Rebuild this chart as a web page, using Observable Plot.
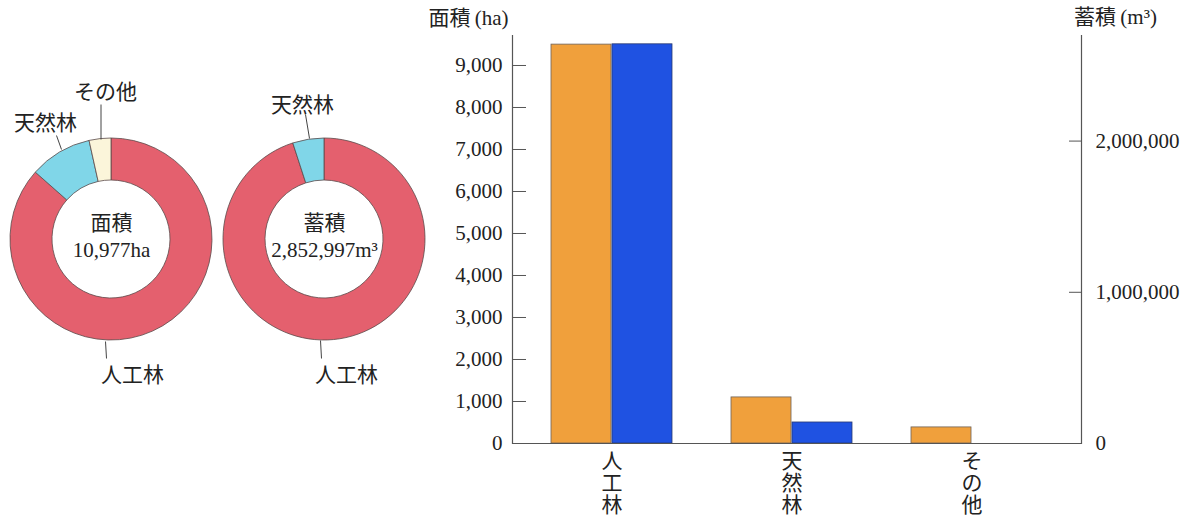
<!DOCTYPE html>
<html lang="ja">
<head>
<meta charset="utf-8">
<script src="https://cdn.jsdelivr.net/npm/d3@7"></script>
<script src="https://cdn.jsdelivr.net/npm/@observablehq/plot@0.6"></script>
<style>
  body { margin: 0; background: #fff; }
  #chart { position: relative; width: 1192px; height: 516px; overflow: hidden; }
  #chart svg { display: block; position: absolute; top: 0; }
</style>
</head>
<body>
<div id="chart"></div>
<script>
// ---- data ----
const categories = ["人工林", "天然林", "その他"];
const areaHa = [9497, 1097, 383];            // 面積 (ha)
const volumeM3 = [2640000, 139000, 0];       // 蓄積 (m³)
const areaTotalLabel = "10,977ha";
const volumeTotalLabel = "2,852,997m³";
const areaTicks = [0, 1000, 2000, 3000, 4000, 5000, 6000, 7000, 8000, 9000];
const volumeTicks = [0, 1000000, 2000000];
const areaTitle = "面積\u2009(ha)";
const volumeTitle = "蓄積\u2009(m³)";

// ---- styling ----
const FONT = '"Liberation Serif", "Noto Sans CJK JP", serif';
const INK = "#222";
const sliceColors = ["#e4606e", "#80d6e8", "#fbf5da"];
const ORANGE = "#f0a03c";
const BLUE = "#1f52e2";
const EDGE = "#6e625a";
const AXIS = "#555";
// shared y: 1 m³ of 蓄積 is drawn at the height of 0.0036 ha of 面積
const HA_PER_M3 = 0.0036;

const chart = document.getElementById("chart");

// ---- donuts ----
const rings = [
  {title: "面積", total: areaTotalLabel, values: areaHa, cx: 111, cy: 239, r0: 59, r1: 101},
  {title: "蓄積", total: volumeTotalLabel, values: volumeM3, cx: 324, cy: 239, r0: 59, r1: 101}
];
// slice callouts: category index, label centre, leader line
const callouts = [
  {cat: 2, tx: 105, ty: 92, x1: 100.5, y1: 104, x2: 100.5, y2: 139},
  {cat: 1, tx: 45, ty: 123, x1: 56, y1: 135, x2: 61, y2: 149},
  {cat: 0, tx: 132, ty: 375, x1: 105, y1: 341, x2: 106, y2: 358},
  {cat: 1, tx: 302, ty: 105, x1: 305, y1: 114, x2: 309, y2: 138},
  {cat: 0, tx: 346, ty: 375, x1: 320, y1: 340, x2: 321, y2: 358}
];

const ringMark = (ring) => (index, scales) => {
  const sx = typeof scales.x === "function" ? scales.x : (v) => v;
  const sy = typeof scales.y === "function" ? scales.y : (v) => v;
  const slices = d3.pie().sort(null)(ring.values);
  const arc = d3.arc().innerRadius(ring.r0).outerRadius(ring.r1);
  const g = d3.create("svg:g")
    .attr("transform", `translate(${sx(ring.cx)},${sy(ring.cy)})`);
  g.selectAll("path")
    .data(slices.filter((s) => s.value > 0))
    .join("path")
    .attr("d", arc)
    .attr("fill", (s) => sliceColors[s.index])
    .attr("stroke", "#5a4a4a")
    .attr("stroke-width", 0.8);
  return g.node();
};

const donutPlot = Plot.plot({
  width: 440,
  height: 516,
  margin: 0,
  x: {domain: [0, 440], axis: null},
  y: {domain: [516, 0], axis: null},
  style: {fontFamily: FONT, fontSize: "21px", color: INK, background: "transparent"},
  marks: [
    ...rings.map(ringMark),
    Plot.link(callouts, {x1: "x1", y1: "y1", x2: "x2", y2: "y2", stroke: "#444", strokeWidth: 1}),
    Plot.text(callouts, {x: "tx", y: "ty", text: (d) => categories[d.cat], fontSize: 21, fill: INK}),
    Plot.text(rings, {x: "cx", y: (d) => d.cy - 16, text: "title", fontSize: 21, fill: INK}),
    Plot.text(rings, {x: "cx", y: (d) => d.cy + 11, text: "total", fontSize: 21, fill: INK})
  ]
});
donutPlot.style.left = "0px";
chart.appendChild(donutPlot);

// ---- dual-axis bar chart ----
const OFFSET = 400;
const W = 792, H = 516;
const M = {top: 35, right: 111, bottom: 73, left: 112};
const padInner = 0.326, padOuter = 0.235, bandAlign = 0.447;
const step = (W - M.left - M.right) / (categories.length - padInner + 2 * padOuter);
const bandwidth = step * (1 - padInner);

const rows = categories.map((c, i) => ({category: c, area: areaHa[i], volume: volumeM3[i]}));
const fmt = d3.format(",");

const barPlot = Plot.plot({
  width: W,
  height: H,
  marginTop: M.top,
  marginRight: M.right,
  marginBottom: M.bottom,
  marginLeft: M.left,
  style: {fontFamily: FONT, fontSize: "21px", color: INK, background: "transparent"},
  x: {type: "band", domain: categories, paddingInner: padInner, paddingOuter: padOuter, align: bandAlign, label: null},
  y: {domain: [0, 9714], label: null},
  marks: [
    Plot.barY(rows, {
      x: "category", y: "area", insetRight: bandwidth / 2,
      fill: ORANGE, stroke: EDGE, strokeWidth: 0.8
    }),
    Plot.barY(rows.filter((d) => d.volume > 0), {
      x: "category", y: (d) => d.volume * HA_PER_M3, insetLeft: bandwidth / 2,
      fill: BLUE, stroke: "#2a3a70", strokeWidth: 0.8
    }),
    Plot.ruleY([0], {stroke: AXIS, strokeWidth: 1.2}),
    Plot.frame({anchor: "left", stroke: AXIS, strokeWidth: 1.2}),
    Plot.frame({anchor: "right", stroke: AXIS, strokeWidth: 1.2}),
    Plot.axisY(areaTicks, {
      anchor: "left", tickSize: 14, dx: 14, tickPadding: 10,
      tickFormat: fmt, fontSize: 21, stroke: AXIS, fill: INK
    }),
    Plot.axisY(volumeTicks.map((v) => v * HA_PER_M3), {
      anchor: "right", tickSize: 13, dx: -13, tickPadding: 14,
      tickFormat: (d) => fmt(Math.round(d / HA_PER_M3)), fontSize: 21, stroke: AXIS, fill: INK
    }),
    Plot.axisX({
      anchor: "bottom", tickSize: 0, tickPadding: 9,
      tickFormat: (d) => Array.from(d).join("\n"), lineHeight: 1.05, fontSize: 21, fill: INK
    }),
    Plot.text([areaTitle], {
      frameAnchor: "top-left", text: (d) => d, textAnchor: "middle", lineAnchor: "middle",
      dx: -44, dy: -17, fontSize: 21, fill: INK
    }),
    Plot.text([volumeTitle], {
      frameAnchor: "top-right", text: (d) => d, textAnchor: "middle", lineAnchor: "middle",
      dx: 34, dy: -18, fontSize: 21, fill: INK
    })
  ]
});
barPlot.style.left = OFFSET + "px";
chart.appendChild(barPlot);
</script>
</body>
</html>
